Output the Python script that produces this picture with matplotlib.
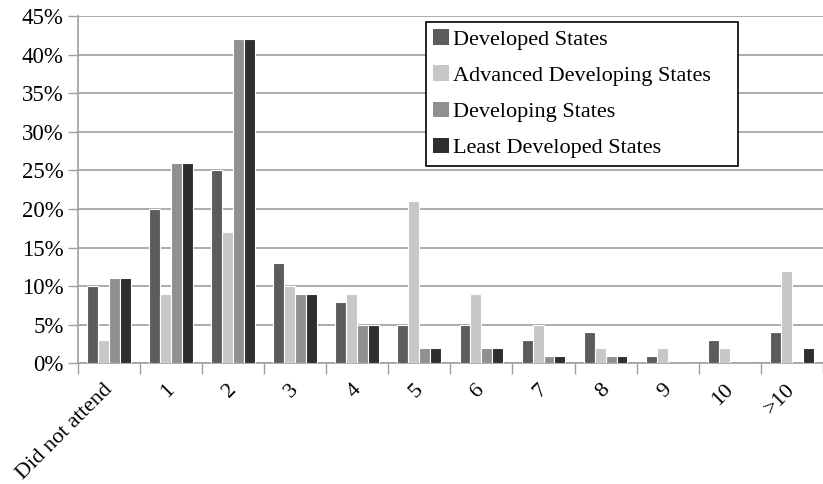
import numpy as np
import matplotlib.pyplot as plt
from matplotlib.ticker import FuncFormatter

categories = ['Did not attend', '1', '2', '3', '4', '5', '6', '7', '8', '9', '10', '>10']
developed = [10, 20, 25, 13, 8, 5, 5, 3, 4, 1, 3, 4]
advanced_developing = [3, 9, 17, 10, 9, 21, 9, 5, 2, 2, 2, 12]
developing = [11, 26, 42, 9, 5, 2, 2, 1, 1, 0, 0, 0]
least_developed = [11, 26, 42, 9, 5, 2, 2, 1, 1, 0, 0, 2]

series = [
    ('Developed States', developed, '#5b5c5e'),
    ('Advanced Developing States', advanced_developing, '#c6c7c8'),
    ('Developing States', developing, '#8f9092'),
    ('Least Developed States', least_developed, '#2e2e2e'),
]

plt.rcParams['font.family'] = ['Liberation Serif', 'DejaVu Serif']

fig = plt.figure(figsize=(8.23, 4.84), dpi=100)
ax = fig.add_axes([77.7 / 823, 1 - 363.3 / 484, 1 - 77.7 / 823, (363.3 - 16) / 484])

x = np.arange(len(categories))
width = 0.176
for i, (name, vals, color) in enumerate(series):
    ax.bar(x + (i - 1.5) * width, vals, width, color=color, label=name,
           edgecolor='white', linewidth=0.8, zorder=3)

ax.set_ylim(0, 45)
ax.set_yticks(np.arange(0, 46, 5))
ax.yaxis.set_major_formatter(FuncFormatter(lambda v, p: f'{int(v)}%'))
ax.set_xlim(-0.5, -0.5 + (823 - 77.7) / 62.5)

# ticks sit at the category boundaries; the rotated labels hang from
# invisible minor ticks nudged a little left of each centre
ax.set_xticks(np.arange(len(categories) + 1) - 0.5)
ax.set_xticklabels([])
ax.set_xticks(x - 0.096, minor=True)
ax.set_xticklabels(categories, minor=True, rotation=45, ha='right', va='top',
                   rotation_mode='anchor', fontsize=16)
ax.tick_params(axis='x', which='minor', length=0, pad=12)
ax.tick_params(axis='x', which='major', length=8, color='#a0a0a0', width=1)
ax.tick_params(axis='y', length=7, color='#a0a0a0', width=1, labelsize=16.5, pad=3)

ax.grid(axis='y', color='#a6a6a6', linewidth=1.3, zorder=0)
for side in ['top', 'right']:
    ax.spines[side].set_visible(False)
ax.spines['left'].set_color('#a0a0a0')
ax.spines['bottom'].set_color('#a0a0a0')
ax.spines['left'].set_linewidth(1.2)
ax.spines['bottom'].set_linewidth(1.2)

leg = ax.legend(loc='upper left', mode='expand',
                bbox_to_anchor=(425.7 / 823, 1 - 22 / 484 - 0.01, 312 / 823, 0.01),
                bbox_transform=fig.transFigure, borderaxespad=0,
                fontsize=16, handlelength=0.7, handleheight=0.7,
                handletextpad=0.22, labelspacing=0.7, borderpad=0.33,
                fancybox=False, framealpha=1)
leg.get_frame().set_edgecolor('black')
leg.get_frame().set_linewidth(1.2)
for h in leg.legend_handles:
    h.set_edgecolor('none')

fig.savefig('out.png', dpi=100)
